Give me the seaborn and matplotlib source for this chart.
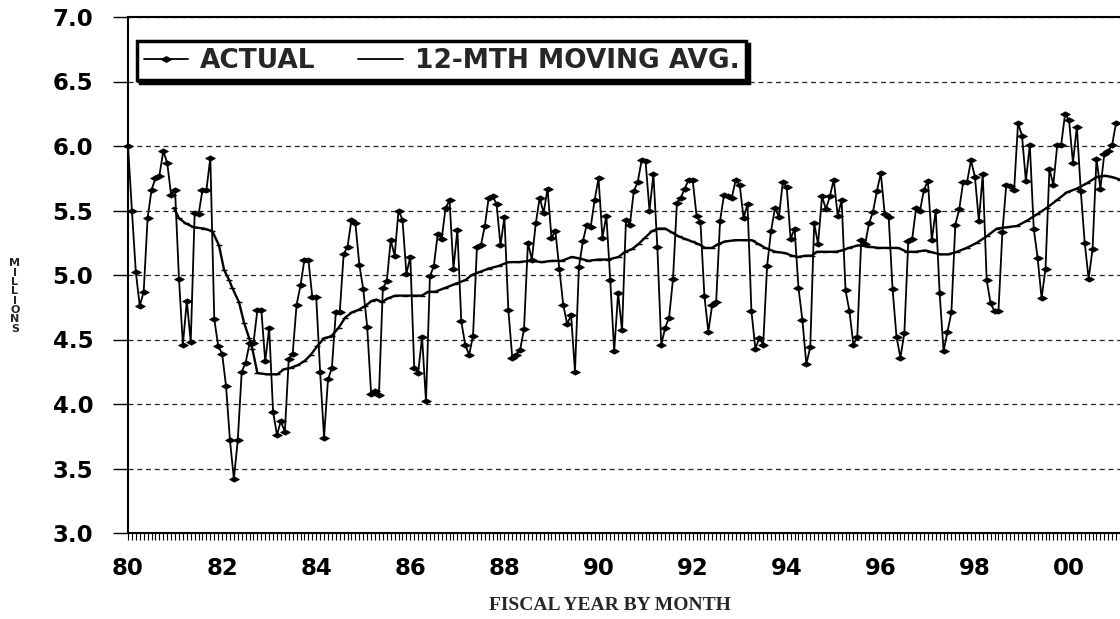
import numpy as np
import pandas as pd
import matplotlib
matplotlib.use("Agg")
import matplotlib.pyplot as plt
import seaborn as sns
from matplotlib.path import Path
from matplotlib.lines import Line2D

# ---------------- data (millions, monthly, FY80 onward) ----------------
actual = [
    6.00, 5.50, 5.02, 4.76, 4.87, 5.44, 5.66, 5.75, 5.77, 5.96, 5.87, 5.62,
    5.66, 4.97, 4.46, 4.80, 4.48, 5.48, 5.47, 5.66, 5.66, 5.91, 4.66, 4.45,
    4.39, 4.14, 3.72, 3.42, 3.72, 4.25, 4.32, 4.47, 4.47, 4.73, 4.73, 4.33,
    4.59, 3.94, 3.76, 3.87, 3.78, 4.35, 4.39, 4.77, 4.92, 5.12, 5.12, 4.83,
    4.83, 4.25, 3.74, 4.19,
    4.28, 4.71, 4.71, 5.16, 5.22, 5.43, 5.40, 5.08, 4.89, 4.60, 4.08, 4.10,
    4.07, 4.90, 4.95, 5.27, 5.15, 5.50, 5.43, 5.01, 5.14, 4.28, 4.24, 4.52,
    4.02, 4.99, 5.07, 5.32, 5.28, 5.52, 5.58, 5.05, 5.35, 4.64, 4.46, 4.38,
    4.53, 5.22, 5.23, 5.38, 5.60, 5.61, 5.55, 5.23, 5.45, 4.73, 4.36, 4.38,
    4.42, 4.58, 5.25,
    5.12, 5.40, 5.60, 5.48, 5.67, 5.29, 5.34, 5.05, 4.77, 4.62, 4.69, 4.25,
    5.06, 5.26, 5.39, 5.37, 5.58, 5.75, 5.29, 5.46, 4.96, 4.41, 4.86, 4.57,
    5.43, 5.39, 5.65, 5.72, 5.89,
    5.88, 5.50, 5.78, 5.22, 4.46, 4.59, 4.67, 4.97, 5.56, 5.60, 5.67, 5.74,
    5.74, 5.46, 5.41, 4.84, 4.56, 4.77, 4.79, 5.42, 5.62,
    5.61, 5.60, 5.74, 5.70, 5.44, 5.55, 4.72, 4.43, 4.51, 4.46, 5.07, 5.34,
    5.52, 5.45, 5.72, 5.68, 5.28, 5.36, 4.90, 4.65, 4.31, 4.44, 5.40, 5.24,
    5.61, 5.51, 5.61, 5.74, 5.46, 5.58, 4.88, 4.72, 4.46, 4.52, 5.27, 5.24,
    5.40, 5.49, 5.65, 5.79, 5.47, 5.45, 4.89, 4.52, 4.36, 4.55, 5.26, 5.28,
    5.52, 5.50, 5.66, 5.73,
    5.27, 5.50, 4.86, 4.41, 4.56, 4.71, 5.39, 5.51, 5.72, 5.72, 5.89, 5.76,
    5.42, 5.78, 4.96, 4.78, 4.72, 4.72, 5.33, 5.70, 5.69, 5.66, 6.18, 6.08,
    5.73, 6.01, 5.36, 5.13, 4.82, 5.05, 5.82, 5.70, 6.01, 6.01, 6.25, 6.20,
    5.87, 6.15, 5.65, 5.25, 4.97, 5.20, 5.90, 5.67, 5.94, 5.96, 6.01, 6.18,
]

ma_month = [
    11.7, 13, 14.7, 16.8, 19.4, 21.5, 23.2, 24.5, 25.8, 26.6, 28.3, 29.6,
    30.9, 31.7, 33, 35.5, 38.1, 39.8, 41.5, 43.2, 44.9, 46.6, 48.3, 50,
    51.3, 52, 53.7, 55.4, 57.1, 58.8, 60.5, 62.2, 63.4, 64.7, 66.4, 68.1,
    70.7, 73.2, 74.9, 76.6, 78.3, 80.9, 83.4, 86, 87.7, 89.4, 92, 94.5,
    97, 99.6, 102.6, 105.5, 108.1, 110.6, 113.2, 114.9, 117.4, 120, 122.5,
    125.1, 126.8, 128.5, 130.2, 131.9, 133.6, 135.3, 137, 138.7, 140.4,
    142.1, 143.8, 145.5, 147.2, 148.9, 150.6, 152.3, 154.9, 157.4, 159.1,
    160.8, 162.5, 165.1, 167.6, 169.3, 171, 172.7, 174.4, 175.7, 177.8,
    180.4, 182.1, 183.8, 186.3, 188.9, 191.4, 194, 196.5, 198.6, 200.8,
    203.3, 204.6, 207.1, 209.2, 211.4, 213.9, 216.5, 219, 221.6, 224.1,
    226.7, 229.2, 231.8, 234.3, 236.9, 239.4, 242, 244.5, 247.1, 249.2,
    250.9, 253,
]
ma_value = [
    5.52, 5.44, 5.40, 5.37, 5.36, 5.34, 5.23, 5.04, 4.96, 4.90, 4.79, 4.63,
    4.51, 4.43, 4.24, 4.23, 4.23, 4.27, 4.28, 4.30, 4.33, 4.38, 4.45, 4.51,
    4.52, 4.53, 4.59, 4.67, 4.71, 4.73, 4.76, 4.80, 4.81, 4.79, 4.82, 4.84,
    4.84, 4.84, 4.84, 4.87, 4.87, 4.90, 4.93, 4.96, 5.00, 5.02, 5.05, 5.07,
    5.10, 5.10, 5.11, 5.10, 5.11, 5.11, 5.14, 5.13, 5.11, 5.12, 5.12,
    5.14, 5.18, 5.20, 5.24, 5.29, 5.34, 5.36, 5.36, 5.33, 5.30,
    5.28, 5.26, 5.24, 5.21, 5.21, 5.24, 5.26, 5.27, 5.27, 5.27,
    5.24, 5.21, 5.18, 5.17, 5.15, 5.14, 5.15, 5.15, 5.18, 5.18,
    5.18, 5.19, 5.21, 5.23, 5.22, 5.21, 5.21, 5.21, 5.18, 5.18,
    5.19, 5.18, 5.16, 5.16, 5.18, 5.21, 5.25, 5.30, 5.36, 5.37,
    5.38, 5.42, 5.47, 5.52, 5.58, 5.64, 5.67, 5.71, 5.76, 5.77,
    5.76, 5.74,
]

tick_months = [0, 24, 48, 72, 96, 120, 144, 168, 192, 216, 240]
tick_labels = ["80", "82", "84", "86", "88", "90", "92", "94", "96", "98", "00"]
y_ticks = [3.0, 3.5, 4.0, 4.5, 5.0, 5.5, 6.0, 6.5, 7.0]
y_labels = ["3.0", "3.5", "4.0", "4.5", "5.0", "5.5", "6.0", "6.5", "7.0"]
legend_labels = ["ACTUAL", "12-MTH MOVING AVG."]

# ---------------- style ----------------
sns.set_theme(style="white")
plt.rcParams["font.family"] = ["DejaVu Sans"]

W, H = 1120, 619
fig = plt.figure(figsize=(W / 100, H / 100), dpi=100)
fig.patch.set_facecolor("white")
ax = fig.add_axes([128 / W, 1 - 533 / H, 1 - 128 / W, (533 - 17) / H])
ax.set_facecolor("white")

df_act = pd.DataFrame({"month": np.arange(len(actual)), "value": actual})
df_ma = pd.DataFrame({"month": ma_month, "value": ma_value})

diamond = Path([(-1, 0), (0, 0.55), (1, 0), (0, -0.55), (-1, 0)],
               [Path.MOVETO, Path.LINETO, Path.LINETO, Path.LINETO, Path.CLOSEPOLY])

sns.lineplot(data=df_ma, x="month", y="value", ax=ax, color="black",
             lw=1.7, marker="_", markersize=5, markeredgewidth=1.0,
             markeredgecolor="black", markerfacecolor="black",
             estimator=None, sort=False, zorder=3)
sns.lineplot(data=df_act, x="month", y="value", ax=ax, color="black",
             lw=1.3, marker=diamond, markersize=7, markeredgewidth=0.6,
             markerfacecolor="black", markeredgecolor="black",
             estimator=None, sort=False, zorder=4, clip_on=False)

ax.set_xlim(0, 253)
ax.set_ylim(3.0, 7.0)
ax.set_xticks(tick_months)
ax.set_xticklabels(tick_labels)
ax.set_xticks(np.arange(0, 254), minor=True)
ax.set_yticks(y_ticks)
ax.set_yticklabels(y_labels)
ax.set_xlabel("")
ax.set_ylabel("")

for lab in ax.get_xticklabels() + ax.get_yticklabels():
    lab.set_fontweight("bold")
    lab.set_fontsize(16.5)

ax.tick_params(axis="y", direction="out", length=11, width=1.0, pad=14,
               colors="black", left=True)
ax.tick_params(axis="x", which="both", direction="out", length=5, width=0.8,
               pad=12, colors="black", bottom=True)

ax.yaxis.grid(True, linestyle=(0, (4, 3)), color="#222222", lw=0.9)
ax.xaxis.grid(False)

for side in ["left", "bottom", "top"]:
    ax.spines[side].set_visible(True)
    ax.spines[side].set_color("black")
    ax.spines[side].set_linewidth(1.5)
ax.spines["right"].set_visible(False)

# legend
h1 = Line2D([], [], color="black", lw=1.3, marker=diamond, markersize=7)
h2 = Line2D([], [], color="black", lw=1.3)
leg = ax.legend([h1, h2], legend_labels, loc="upper left",
                bbox_to_anchor=(0.009, 0.953), ncol=2, frameon=True,
                fancybox=False, edgecolor="black", framealpha=1,
                prop={"weight": "bold", "size": 19}, handlelength=1.7,
                handletextpad=0.45, columnspacing=1.6, borderpad=0.25,
                borderaxespad=0,
                shadow={"color": "black", "alpha": 1, "ox": 2, "oy": -2})
leg.get_frame().set_linewidth(2.5)

# axis titles
fig.text(15 / W, 1 - 296 / H, "M\nI\nL\nL\nI\nO\nN\nS", ha="center",
         va="center", fontsize=8, fontweight="bold", linespacing=0.92)
fig.text(610 / W, 1 - 605 / H, "FISCAL YEAR BY MONTH", ha="center",
         va="center", fontsize=14, fontweight="bold",
         family=["Liberation Serif", "DejaVu Serif"])

fig.savefig("out.png", dpi=100, facecolor="white")
